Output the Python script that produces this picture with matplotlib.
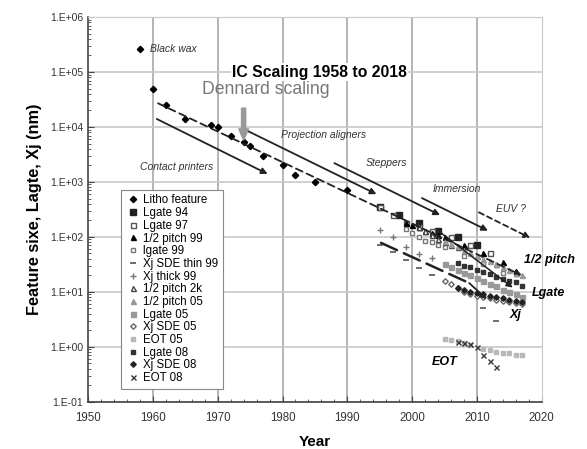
import numpy as np
import matplotlib.pyplot as plt
from matplotlib.ticker import FixedLocator, FuncFormatter, MultipleLocator, LogLocator

plt.rcParams['font.family'] = ['Liberation Sans', 'DejaVu Sans']

# ---- data ----
litho_yr = [1958, 1960, 1962, 1965, 1969, 1970, 1972, 1974, 1975, 1977, 1980, 1982, 1985, 1990]
litho_nm = [2.6e5, 5.0e4, 2.5e4, 1.4e4, 1.1e4, 1.0e4, 7.0e3, 5.3e3, 4.5e3, 3.0e3, 2.0e3, 1.35e3, 1.0e3, 7.0e2]

lg94_yr = [1995, 1998, 2001, 2004, 2007, 2010]
lg94_nm = [350, 250, 180, 130, 100, 70]

lg97_yr = [1995, 1997, 1999, 2001, 2003, 2006, 2009, 2012]
lg97_nm = [350, 250, 180, 150, 130, 100, 70, 50]

hp99_yr = [1999, 2000, 2001, 2002, 2003, 2004, 2005, 2008, 2011, 2014]
hp99_nm = [180, 165, 150, 130, 120, 110, 100, 70, 50, 35]

lg99_yr = [1999, 2000, 2001, 2002, 2003, 2004, 2005, 2008, 2011, 2014]
lg99_nm = [140, 120, 100, 85, 80, 70, 65, 45, 32, 22]

xjthin_yr = [1995, 1997, 1999, 2001, 2003, 2011, 2013]
xjthin_nm = [72, 54, 38, 27, 20, 5.1, 2.9]

xjthick_yr = [1995, 1997, 1999, 2001, 2003]
xjthick_nm = [135, 100, 66, 49, 41]

hp2k_yr = [2001, 2002, 2003, 2004, 2005, 2006, 2007, 2010, 2013, 2016]
hp2k_nm = [150, 130, 107, 90, 80, 70, 65, 45, 32, 22]

hp05_yr = [2005, 2006, 2007, 2008, 2009, 2010, 2011, 2012, 2013, 2014, 2015, 2016, 2017]
hp05_nm = [85, 75, 68, 59, 52, 45, 40, 36, 32, 28, 25, 22, 20]

lg05_yr = [2005, 2006, 2007, 2008, 2009, 2010, 2011, 2012, 2013, 2014, 2015, 2016, 2017]
lg05_nm = [32, 28, 25, 22, 20, 18, 16, 14, 13, 11, 10, 9, 8]

xj05_yr = [2005, 2006, 2007, 2008, 2009, 2010, 2011, 2012, 2013, 2014, 2015, 2016, 2017]
xj05_nm = [16, 14, 12, 10, 9, 8.5, 8, 7.6, 7.2, 6.9, 6.6, 6.3, 6.0]

eot05_yr = [2005, 2006, 2007, 2008, 2009, 2011, 2012, 2013, 2014, 2015, 2016, 2017]
eot05_nm = [1.4, 1.34, 1.3, 1.18, 1.1, 0.92, 0.89, 0.82, 0.78, 0.78, 0.71, 0.71]

lg08_yr = [2007, 2008, 2009, 2010, 2011, 2012, 2013, 2014, 2015, 2016, 2017]
lg08_nm = [34, 30, 28, 25, 23, 21, 19, 17, 16, 15, 13]

xj08_yr = [2007, 2008, 2009, 2010, 2011, 2012, 2013, 2014, 2015, 2016, 2017]
xj08_nm = [12, 11, 10, 9.5, 9, 8.5, 8, 7.6, 7.2, 6.8, 6.5]

eot08_yr = [2007, 2008, 2009, 2010, 2011, 2012, 2013]
eot08_nm = [1.25, 1.2, 1.15, 1.0, 0.72, 0.56, 0.43]

fig = plt.figure(figsize=(5.87, 4.49), dpi=100)
ax = fig.add_axes([0.150, 0.105, 0.773, 0.857])
ax.set_yscale('log')
ax.set_xlim(1950, 2020)
ax.set_ylim(0.1, 1e6)

# grid
for yr in range(1960, 2020, 10):
    ax.axvline(yr, color='#a8a8a8', lw=1.2, zorder=0)
for e in range(-1, 6):
    ax.axhline(10.0 ** e, color='#c8c8c8', lw=1.2, zorder=0)

ms = 3.6
ax.plot(litho_yr, litho_nm, 'D', color='black', ms=ms - 0.4, label='Litho feature')
ax.plot(lg94_yr, lg94_nm, 's', color='#222222', ms=ms + 1, label='Lgate 94')
ax.plot(lg97_yr, lg97_nm, 's', mfc='white', mec='#555555', ms=ms, label='Lgate 97')
ax.plot(hp99_yr, hp99_nm, '^', color='black', ms=ms, label='1/2 pitch 99')
ax.plot(lg99_yr, lg99_nm, 's', mfc='white', mec='#777777', ms=ms - 0.8, label='lgate 99')
ax.plot(xjthin_yr, xjthin_nm, '_', color='#555555', ms=ms + 1, mew=1.2, label='Xj SDE thin 99')
ax.plot(xjthick_yr, xjthick_nm, '+', color='#777777', ms=ms + 1, label='Xj thick 99')
ax.plot(hp2k_yr, hp2k_nm, '^', mfc='white', mec='#444444', ms=ms, label='1/2 pitch 2k')
ax.plot(hp05_yr, hp05_nm, '^', color='#999999', ms=ms, label='1/2 pitch 05')
ax.plot(lg05_yr, lg05_nm, 's', color='#999999', ms=ms, label='Lgate 05')
ax.plot(xj05_yr, xj05_nm, 'D', mfc='white', mec='#666666', ms=ms - 0.8, label='Xj SDE 05')
ax.plot(eot05_yr, eot05_nm, 's', color='#b8b8b8', ms=2.3, label='EOT 05')
ax.plot(lg08_yr, lg08_nm, 's', color='#333333', ms=ms - 0.6, label='Lgate 08')
ax.plot(xj08_yr, xj08_nm, 'D', color='#222222', ms=ms - 0.8, label='Xj SDE 08')
ax.plot(eot08_yr, eot08_nm, 'x', color='#333333', ms=ms, label='EOT 08')

# trend arrows
def arrow(x0, y0, x1, y1, ls='-', color='#222222', lw=1.3, head=True):
    ax.annotate('', xy=(x1, y1), xytext=(x0, y0),
                arrowprops=dict(arrowstyle='-|>' if head else '-', color=color, lw=lw,
                                linestyle=ls, mutation_scale=9, shrinkA=0, shrinkB=0))

arrow(1960.6, 1.4e4, 1977.7, 1.4e3)
arrow(1974.6, 8.5e3, 1994.5, 6.0e2)
arrow(1988.0, 2.2e3, 2004.3, 2.5e2)
arrow(2001.5, 5.1e2, 2011.7, 1.3e2)
arrow(2010.3, 2.8e2, 2018.2, 9.6e1, ls=(0, (3, 2)))
arrow(1960.8, 2.7e4, 2016.9, 2.0e1, ls=(0, (4, 2.5)))
arrow(2004.0, 1.3e2, 2015.5, 1.2e1, lw=1.1)
arrow(1995.2, 7.8e1, 2008.8, 1.45e1, ls=(0, (7, 3)), lw=1.8, head=False)
arrow(2008.8, 1.45e1, 2011.5, 7.4, lw=1.3)

# Dennard arrow
ax.annotate('', xy=(1974, 5.8e3), xytext=(1974, 2.2e4),
            arrowprops=dict(arrowstyle='simple,head_length=0.8,head_width=0.7,tail_width=0.3',
                            color='#999999', shrinkA=0, shrinkB=0))

# annotations
it = dict(fontsize=7.5, style='italic', color='#333333', va='center', ha='left')
ax.text(1959.5, 2.6e5, 'Black wax', **it)
ax.text(1958.0, 1.87e3, 'Contact printers', **it)
ax.text(1979.8, 7.2e3, 'Projection aligners', **it)
ax.text(1992.8, 2.2e3, 'Steppers', **it)
ax.text(2003.1, 7.4e2, 'Immersion', **it)
ax.text(2012.9, 3.2e2, 'EUV ?', **it)

bi = dict(fontsize=9, style='italic', fontweight='bold', color='black', va='center',
          ha='left', clip_on=False)
ax.text(2017.2, 38, '1/2 pitch', **bi)
ax.text(2018.5, 9.6, 'Lgate', **bi)
ax.text(2015.0, 3.8, 'Xj', **bi)
ax.text(2003.1, 0.54, 'EOT', **bi)

ax.text(1985.7, 1e5, 'IC Scaling 1958 to 2018', fontsize=11.3, fontweight='bold',
        ha='center', va='center', bbox=dict(facecolor='white', edgecolor='none', pad=1))
ax.text(1977.4, 4.9e4, 'Dennard scaling', fontsize=12.7, color='#777777',
        ha='center', va='center')

# axes styling
ax.yaxis.set_major_locator(FixedLocator([10.0 ** e for e in range(-1, 7)]))
ax.yaxis.set_major_formatter(FuncFormatter(lambda v, p: '1.E%+03d' % int(round(np.log10(v)))))
ax.yaxis.set_minor_locator(LogLocator(base=10, subs=np.arange(2, 10), numticks=20))
ax.xaxis.set_major_locator(MultipleLocator(10))
ax.xaxis.set_minor_locator(MultipleLocator(2))
ax.tick_params(which='both', direction='in', colors='#444444', labelcolor='#333333')
ax.tick_params(axis='y', labelsize=7.5)
ax.tick_params(axis='x', labelsize=8.3, pad=7)
ax.tick_params(which='major', length=4)
ax.tick_params(which='minor', length=2)
for s in ['left', 'bottom']:
    ax.spines[s].set_color('#444444')
    ax.spines[s].set_linewidth(1.2)
for s in ['top', 'right']:
    ax.spines[s].set_color('#c8c8c8')

ax.set_xlabel('Year', fontsize=11, fontweight='bold', labelpad=8)
ax.set_ylabel('Feature sixe, Lagte, Xj (nm)', fontsize=11.7, fontweight='bold', labelpad=6)

leg = ax.legend(loc='upper left', bbox_to_anchor=(0.073, 0.551), borderaxespad=0,
                fontsize=8.3, labelspacing=0.06, handlelength=1.3, handletextpad=0.2,
                borderpad=0.4, fancybox=False, framealpha=1, edgecolor='#888888')
leg.get_frame().set_linewidth(0.8)

fig.savefig('out.png', dpi=100)
